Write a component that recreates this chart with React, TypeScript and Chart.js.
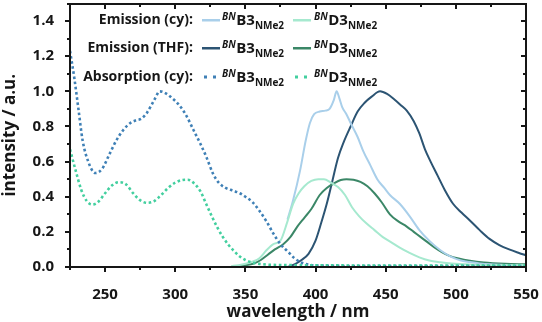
import React, { useEffect, useRef } from 'react';
import { Chart, registerables } from 'chart.js';

Chart.register(...registerables);

// Absorption in cyclohexane (dotted)
const absB3Nm = [225, 228, 231, 234, 238, 243, 248, 253, 258, 263, 268, 272, 276, 280, 285, 289, 293, 298, 303, 308, 313, 318, 322, 327, 331, 336, 341, 346, 350, 355, 360, 365, 370, 375, 380, 385, 390, 396, 405, 420, 450, 500, 550];
const absB3Int = [1.23, 1.08, 0.9, 0.72, 0.6, 0.535, 0.56, 0.64, 0.72, 0.78, 0.82, 0.835, 0.845, 0.88, 0.95, 1.0, 0.99, 0.96, 0.92, 0.86, 0.78, 0.7, 0.63, 0.53, 0.48, 0.45, 0.435, 0.42, 0.4, 0.37, 0.32, 0.26, 0.19, 0.13, 0.09, 0.05, 0.025, 0.012, 0.008, 0.006, 0.005, 0.005, 0.005];

const absD3Nm = [225, 229, 233, 237, 241, 245, 250, 255, 260, 265, 270, 275, 280, 285, 290, 295, 300, 305, 309, 313, 318, 322, 326, 330, 334, 338, 342, 346, 350, 355, 360, 370, 400, 450, 500, 550];
const absD3Int = [0.67, 0.55, 0.44, 0.375, 0.355, 0.37, 0.42, 0.465, 0.483, 0.47, 0.42, 0.38, 0.365, 0.375, 0.41, 0.45, 0.48, 0.495, 0.497, 0.48, 0.43, 0.36, 0.29, 0.225, 0.17, 0.125, 0.09, 0.06, 0.04, 0.025, 0.018, 0.012, 0.01, 0.008, 0.008, 0.008];

// Emission in cyclohexane
const emCyB3Nm = [380, 384, 389, 393, 396, 399, 403, 407, 410, 413, 415, 417, 419, 422, 425, 430, 434, 439, 444, 449, 453, 460, 467, 474, 481, 489, 496, 503, 510, 517, 525, 535, 550];
const emCyB3Int = [0.27, 0.38, 0.55, 0.72, 0.82, 0.87, 0.885, 0.89, 0.9, 0.95, 1.0, 0.96, 0.91, 0.87, 0.82, 0.74, 0.66, 0.58, 0.5, 0.45, 0.41, 0.36, 0.29, 0.21, 0.15, 0.095, 0.06, 0.038, 0.028, 0.02, 0.015, 0.012, 0.01];

const emCyD3Nm = [340, 345, 350, 355, 360, 365, 370, 375, 380, 384, 388, 392, 397, 402, 406, 411, 416, 421, 426, 431, 436, 442, 448, 454, 460, 467, 474, 481, 489, 497, 510, 525, 550];
const emCyD3Int = [0.005, 0.01, 0.018, 0.03, 0.05, 0.095, 0.13, 0.15, 0.26, 0.36, 0.42, 0.46, 0.49, 0.5, 0.5, 0.48, 0.455, 0.41, 0.34, 0.29, 0.25, 0.21, 0.17, 0.14, 0.11, 0.08, 0.055, 0.037, 0.027, 0.02, 0.014, 0.011, 0.01];

// Emission in THF
const emThfB3Nm = [380, 385, 390, 395, 400, 404, 408, 412, 416, 420, 425, 430, 435, 440, 446, 451, 456, 461, 465, 470, 474, 478, 482, 487, 492, 498, 504, 510, 517, 524, 531, 538, 545, 550];
const emThfB3Int = [0.0, 0.015, 0.04, 0.075, 0.15, 0.25, 0.36, 0.49, 0.62, 0.71, 0.8, 0.885, 0.935, 0.97, 1.0, 0.985, 0.955, 0.92, 0.89, 0.83, 0.76, 0.67, 0.6, 0.52, 0.44, 0.36, 0.31, 0.265, 0.21, 0.16, 0.125, 0.1, 0.08, 0.067];

const emThfD3Nm = [340, 345, 350, 356, 361, 366, 371, 377, 382, 387, 392, 397, 403, 408, 413, 418, 422, 427, 432, 437, 442, 447, 453, 459, 465, 470, 475, 480, 485, 490, 495, 502, 510, 520, 535, 550];
const emThfD3Int = [0.002, 0.005, 0.01, 0.02, 0.04, 0.07, 0.1, 0.13, 0.17, 0.23, 0.28, 0.33, 0.41, 0.45, 0.475, 0.495, 0.5, 0.497, 0.485, 0.46, 0.42, 0.37, 0.3, 0.26, 0.23, 0.2, 0.17, 0.14, 0.11, 0.085, 0.065, 0.048, 0.035, 0.025, 0.018, 0.015];

const xMin = 225;
const xMax = 550;
const yMin = 0;
const yMax = 1.5;
const xTickStep = 25;
const xLabelStep = 50;
const yTickStep = 0.1;

const COLORS = {
  cyB3: '#a9cfea',
  cyD3: '#a6e9cf',
  thfB3: '#2c5473',
  thfD3: '#3b8767',
  absB3: '#3f80b6',
  absD3: '#43cf9f',
};

const INK = '#161616';
const FONT = '"Open Sans", "DejaVu Sans", sans-serif';

const legendRows = [
  { label: 'Emission (cy):', kind: 'line', colors: [COLORS.cyB3, COLORS.cyD3] },
  { label: 'Emission (THF):', kind: 'line', colors: [COLORS.thfB3, COLORS.thfD3] },
  { label: 'Absorption (cy):', kind: 'dots', colors: [COLORS.absB3, COLORS.absD3] },
];
const compoundCores = ['B3', 'D3'];

function pts(xs: number[], ys: number[]) {
  return xs.map((x, i) => ({ x, y: ys[i] }));
}

function drawCompound(ctx: CanvasRenderingContext2D, x: number, y: number, core: string) {
  ctx.textBaseline = 'alphabetic';
  ctx.textAlign = 'left';
  ctx.font = `italic bold 10px ${FONT}`;
  ctx.fillText('BN', x, y - 5);
  x += ctx.measureText('BN').width + 0.5;
  ctx.font = `bold 15px ${FONT}`;
  ctx.fillText(core, x, y);
  x += ctx.measureText(core).width;
  ctx.font = `bold 10px ${FONT}`;
  ctx.fillText('NMe2', x, y + 4);
}

// Boxed frame: outward ticks on left/bottom, inward mirrored ticks on top/right
const framePlugin = {
  id: 'frameTicks',
  afterDraw(chart: any) {
    const ctx: CanvasRenderingContext2D = chart.ctx;
    const xs = chart.scales.x;
    const ys = chart.scales.y;
    const L = Math.round(xs.getPixelForValue(xMin));
    const R = Math.round(xs.getPixelForValue(xMax));
    const T = Math.round(ys.getPixelForValue(yMax));
    const B = Math.round(ys.getPixelForValue(yMin));
    const w = 2;
    ctx.save();
    ctx.globalAlpha = 1;
    ctx.globalCompositeOperation = 'source-over';
    ctx.fillStyle = INK;
    ctx.fillRect(L - 1, T - 1, R - L + 2, w);
    ctx.fillRect(L - 1, B - 1, R - L + 2, w);
    ctx.fillRect(L - 1, T - 1, w, B - T + 2);
    ctx.fillRect(R - 1, T - 1, w, B - T + 2);
    for (let v = xMin; v <= xMax + 0.001; v += xTickStep) {
      const px = Math.round(xs.getPixelForValue(v));
      const len = v % xLabelStep === 0 ? 5 : 3;
      ctx.fillRect(px - 1, B, w, len);
      ctx.fillRect(px - 1, T, w, len);
    }
    for (let n = 0; n <= Math.round(yMax / yTickStep); n++) {
      const py = Math.round(ys.getPixelForValue(n * yTickStep));
      const len = n % 2 === 0 ? 5 : 3;
      ctx.fillRect(L - len, py - 1, len, w);
      ctx.fillRect(R - len, py - 1, len, w);
    }

    // series key
    const rowY = [20, 48, 77];
    const labelRight = 193;
    const sampleX = [[202, 220], [293, 311]];
    const textX = [222, 314];
    legendRows.forEach((row, r) => {
      const y = rowY[r];
      ctx.fillStyle = INK;
      ctx.font = `bold 14px ${FONT}`;
      ctx.textAlign = 'right';
      ctx.textBaseline = 'middle';
      ctx.fillText(row.label, labelRight, y);
      row.colors.forEach((c, k) => {
        const [x0, x1] = sampleX[k];
        ctx.fillStyle = c;
        if (row.kind === 'line') {
          ctx.fillRect(x0, y - 1, x1 - x0, 2.5);
        } else {
          ctx.fillRect(x0 + 2, y - 1.5, 3, 3);
          ctx.fillRect(x0 + 11, y - 1.5, 3, 3);
        }
        ctx.fillStyle = INK;
        drawCompound(ctx, textX[k], y + 5, compoundCores[k]);
      });
    });
    ctx.restore();
  },
};

export default function App() {
  const canvasRef = useRef<HTMLCanvasElement | null>(null);

  useEffect(() => {
    const canvas = canvasRef.current;
    if (!canvas) return;
    const solid = (data: any, color: string) => ({
      data,
      borderColor: color,
      borderWidth: 2,
      pointRadius: 0,
      fill: false,
      cubicInterpolationMode: 'monotone' as const,
    });
    const dotted = (data: any, color: string) => ({
      data,
      borderColor: color,
      borderWidth: 2.6,
      borderDash: [2.6, 2.6],
      pointRadius: 0,
      fill: false,
      cubicInterpolationMode: 'monotone' as const,
    });
    const chart = new Chart(canvas, {
      type: 'line',
      data: {
        datasets: [
          dotted(pts(absD3Nm, absD3Int), COLORS.absD3),
          dotted(pts(absB3Nm, absB3Int), COLORS.absB3),
          solid(pts(emCyD3Nm, emCyD3Int), COLORS.cyD3),
          solid(pts(emCyB3Nm, emCyB3Int), COLORS.cyB3),
          solid(pts(emThfD3Nm, emThfD3Int), COLORS.thfD3),
          solid(pts(emThfB3Nm, emThfB3Int), COLORS.thfB3),
        ],
      },
      options: {
        responsive: false,
        animation: false,
        layout: { padding: { top: 3.5, right: 16, left: 0, bottom: 0 } },
        plugins: { legend: { display: false }, tooltip: { enabled: false } },
        scales: {
          x: {
            type: 'linear',
            min: xMin,
            max: xMax,
            grid: { display: false },
            border: { display: false },
            ticks: {
              stepSize: xTickStep,
              autoSkip: false,
              maxRotation: 0,
              padding: 11,
              color: INK,
              font: { family: FONT, weight: 'bold', size: 15 },
              callback: (v: any) => (Math.round(v) % xLabelStep === 0 ? String(v) : ''),
            },
            title: {
              display: true,
              text: 'wavelength / nm',
              color: INK,
              font: { family: FONT, weight: 'bold', size: 17 },
              padding: { top: 0, bottom: 0 },
            },
            afterFit: (s: any) => {
              s.height = 55;
              s.paddingLeft = 0;
              s.paddingRight = 0;
            },
          },
          y: {
            type: 'linear',
            min: yMin,
            max: yMax,
            grid: { display: false },
            border: { display: false },
            ticks: {
              stepSize: yTickStep,
              autoSkip: false,
              padding: 8,
              color: INK,
              font: { family: FONT, weight: 'bold', size: 15 },
              callback: (v: any) => {
                const n = Math.round(v * 10);
                return n % 2 === 0 && n <= 14 ? (n / 10).toFixed(1) : '';
              },
            },
            title: {
              display: true,
              text: 'intensity / a.u.',
              color: INK,
              font: { family: FONT, weight: 'bold', size: 17 },
              padding: { top: 0, bottom: 2 },
            },
            afterFit: (s: any) => {
              s.width = 70;
              s.paddingTop = 0;
              s.paddingBottom = 0;
            },
          },
        },
      },
      plugins: [framePlugin],
    });
    return () => chart.destroy();
  }, []);

  return (
    <div style={{ position: 'absolute', left: 0, top: 0, width: 542, height: 322, background: '#fff' }}>
      <canvas ref={canvasRef} width={542} height={322} />
    </div>
  );
}
